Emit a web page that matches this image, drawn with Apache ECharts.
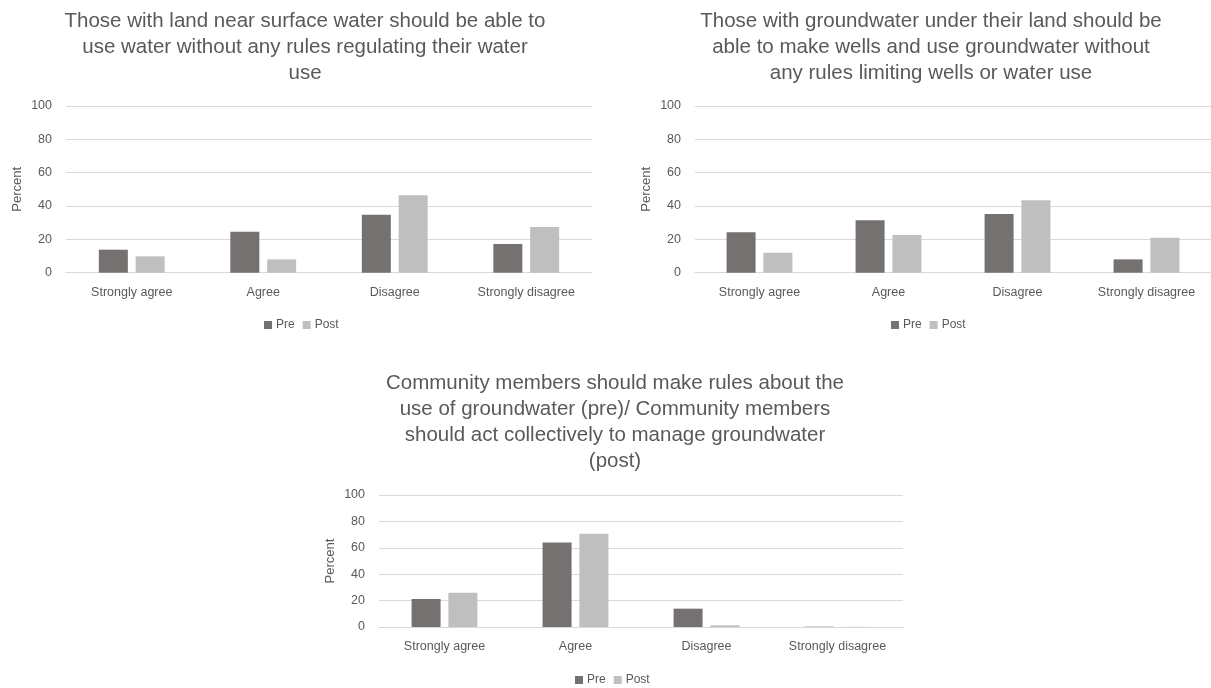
<!DOCTYPE html>
<html>
<head>
<meta charset="utf-8">
<script src="https://cdn.jsdelivr.net/npm/echarts@6/dist/echarts.min.js"></script>
<style>
  html, body { margin: 0; padding: 0; background: #ffffff; }
  #chart { width: 1211px; height: 688px; }
</style>
</head>
<body>
<div id="chart"></div>
<script>
// Response categories shared by all three questions
const categories = ['Strongly agree', 'Agree', 'Disagree', 'Strongly disagree'];
const seriesNames = ['Pre', 'Post'];
const yTicks = [0, 20, 40, 60, 80, 100];

// Question 1: surface water use without rules
const title1 = 'Those with land near surface water should be able to\nuse water without any rules regulating their water\nuse';
const pre1 = [13.8, 24.6, 34.8, 17.2];
const post1 = [9.8, 8, 46.4, 27.4];

// Question 2: wells and groundwater use without rules
const title2 = 'Those with groundwater under their land should be\nable to make wells and use groundwater without\nany rules limiting wells or water use';
const pre2 = [24.2, 31.4, 35.2, 8];
const post2 = [12, 22.6, 43.4, 21];

// Question 3: community rules / collective management
const title3 = 'Community members should make rules about the\nuse of groundwater (pre)/ Community members\nshould act collectively to manage groundwater\n(post)';
const pre3 = [21.2, 64.1, 13.9, 0.25];
const post3 = [26, 70.7, 1.3, 0.15];

const TEXT = '#595959';
const GRID = '#d9d9d9';
const PRE_COLOR = '#767171';
const POST_COLOR = '#bfbfbf';
const FONT = 'Liberation Sans';

const panels = [
  { title: title1, pre: pre1, post: post1, titleX: 300, titleTop: 3,
    grid: { left: 66, top: 106, width: 526, height: 166.7 }, legendLeft: 259, legendTop: 314 },
  { title: title2, pre: pre2, post: post2, titleX: 926, titleTop: 3,
    grid: { left: 695, top: 106, width: 520, height: 166.7 }, legendLeft: 886, legendTop: 314 },
  { title: title3, pre: pre3, post: post3, titleX: 610, titleTop: 365,
    grid: { left: 379, top: 495, width: 524, height: 132 }, legendLeft: 570, legendTop: 669 }
];

const option = {
  backgroundColor: '#ffffff',
  animation: false,
  textStyle: { fontFamily: FONT },
  title: panels.map(p => ({
    text: p.title,
    left: p.titleX,
    top: p.titleTop,
    textAlign: 'center',
    textStyle: { color: TEXT, fontSize: 20.5, fontWeight: 'normal', lineHeight: 26, fontFamily: FONT }
  })),
  legend: panels.map(p => ({
    data: seriesNames,
    left: p.legendLeft,
    top: p.legendTop,
    itemWidth: 8,
    itemHeight: 8,
    itemGap: 8,
    icon: 'rect',
    textStyle: { color: TEXT, fontSize: 12, padding: [0, 0, 0, -1] }
  })),
  grid: panels.map(p => Object.assign({ containLabel: false }, p.grid)),
  xAxis: panels.map((p, i) => ({
    type: 'category',
    gridIndex: i,
    data: categories,
    axisLine: { show: true, lineStyle: { color: GRID, width: 1 } },
    axisTick: { show: false },
    axisLabel: { color: TEXT, fontSize: 12.5, margin: 13 },
    splitLine: { show: false }
  })),
  yAxis: panels.map((p, i) => ({
    type: 'value',
    gridIndex: i,
    min: yTicks[0],
    max: yTicks[yTicks.length - 1],
    interval: yTicks[1] - yTicks[0],
    name: 'Percent',
    nameLocation: 'middle',
    nameGap: 42,
    nameTextStyle: { color: TEXT, fontSize: 13 },
    axisLine: { show: false },
    axisTick: { show: false },
    axisLabel: { color: TEXT, fontSize: 12.5, margin: 14 },
    splitLine: { show: true, lineStyle: { color: GRID, width: 1 } }
  })),
  series: panels.flatMap((p, i) => [
    { name: 'Pre', type: 'bar', xAxisIndex: i, yAxisIndex: i, data: p.pre,
      barWidth: 29, barGap: '27%', itemStyle: { color: PRE_COLOR } },
    { name: 'Post', type: 'bar', xAxisIndex: i, yAxisIndex: i, data: p.post,
      barWidth: 29, barGap: '27%', itemStyle: { color: POST_COLOR } }
  ])
};

const chart = echarts.init(document.getElementById('chart'), null, { renderer: 'canvas' });
chart.setOption(option);
</script>
</body>
</html>
